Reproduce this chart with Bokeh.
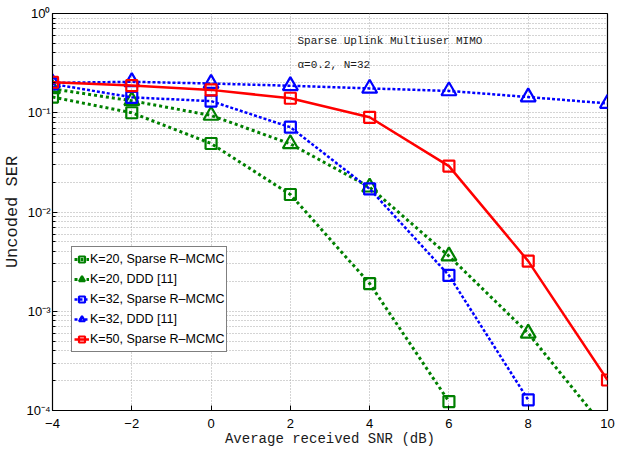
from bokeh.plotting import figure
from bokeh.models import FixedTicker, Label, Legend, LegendItem
from bokeh.embed import file_html
from bokeh.resources import INLINE

# ---- data ----
snr = [-4, -2, 0, 2, 4, 6, 8, 10]
k20_sparse = [0.144, 0.100, 0.049, 0.015, 0.0019, 1.23e-4]
k20_ddd = [0.174, 0.132, 0.094, 0.0486, 0.0178, 0.0036, 6.0e-4, 6.2e-5]
k32_sparse = [0.195, 0.143, 0.131, 0.0715, 0.0171, 0.0023, 1.28e-4]
k32_ddd = [0.200, 0.205, 0.197, 0.187, 0.176, 0.166, 0.144, 0.124]
k50_sparse = [0.203, 0.188, 0.170, 0.140, 0.090, 0.029, 0.0032, 2.03e-4]

x_ticks = [-4, -2, 0, 2, 4, 6, 8, 10]
x_tick_labels = ["\u22124", "\u22122", "0", "2", "4", "6", "8", "10"]
y_ticks = [0.0001, 0.001, 0.01, 0.1, 1]
y_tick_labels = ["10\u207b\u2074", "10\u207b\u00b3", "10\u207b\u00b2", "10\u207b\u00b9", "10\u2070"]
y_minor = [m * 10.0 ** e for e in range(-4, 0) for m in range(2, 10)]

labels = ["K=20, Sparse R\u2013MCMC", "K=20, DDD [11]", "K=32, Sparse R\u2013MCMC",
          "K=32, DDD [11]", "K=50, Sparse R\u2013MCMC"]
title1 = "Sparse Uplink Multiuser MIMO"
title2 = "\u03b1=0.2, N=32"

GREEN = "#008000"
BLUE = "#0000ff"
RED = "#ff0000"

p = figure(width=627, height=450, x_range=(-4, 10), y_range=(1e-4, 1),
           y_axis_type="log", output_backend="svg", toolbar_location=None,
           min_border_left=50, min_border_right=20, min_border_top=13,
           min_border_bottom=40)
p.background_fill_color = "white"
p.border_fill_color = "white"
p.outline_line_color = "black"
p.outline_line_width = 1.2

# axes
xa = p.xaxis[0]
xa.ticker = FixedTicker(ticks=x_ticks)
xa.major_label_overrides = {t: l for t, l in zip(x_ticks, x_tick_labels)}
ya = p.yaxis[0]
ya.ticker = FixedTicker(ticks=y_ticks, minor_ticks=y_minor)
ya.major_label_overrides = {(1 if t == 1 else t): l for t, l in zip(y_ticks, y_tick_labels)}

for ax in (xa, ya):
    ax.major_tick_in = 5
    ax.major_tick_out = 0
    ax.minor_tick_in = 3
    ax.minor_tick_out = 0
    ax.axis_line_color = "black"
    ax.major_tick_line_color = "black"
    ax.minor_tick_line_color = "black"
    ax.major_label_text_font = "Liberation Sans"
    ax.major_label_text_font_size = "13px"
    ax.major_label_text_color = "black"
    ax.axis_label_text_font = "Liberation Mono"
    ax.axis_label_text_font_style = "normal"
    ax.axis_label_text_color = "#1a1a1a"

xa.axis_label = "Average received SNR (dB)"
xa.axis_label_text_font_size = "14px"
xa.axis_label_standoff = 0
xa.major_label_standoff = 8
ya.axis_label = "Uncoded SER"
ya.axis_label_text_font_size = "17px"
ya.axis_label_standoff = 1
ya.major_label_standoff = 2

# grids
p.xgrid.ticker = FixedTicker(ticks=x_ticks)
p.xgrid.grid_line_color = "#a8a8a8"
p.xgrid.grid_line_dash = "1 2"
p.ygrid.ticker = FixedTicker(ticks=y_ticks, minor_ticks=y_minor)
p.ygrid.grid_line_color = "#a8a8a8"
p.ygrid.grid_line_dash = "1 2"
p.ygrid.minor_grid_line_color = "#a8a8a8"
p.ygrid.minor_grid_line_dash = "1 2"

series = [
    (snr[:len(k20_sparse)], k20_sparse, GREEN, "3 3", 3, "square", 11),
    (snr[:len(k20_ddd)], k20_ddd, GREEN, "3 3", 3, "triangle", 15),
    (snr[:len(k32_sparse)], k32_sparse, BLUE, "3 2", 2.5, "square", 11),
    (snr[:len(k32_ddd)], k32_ddd, BLUE, "3 2", 2.5, "triangle", 15),
    (snr[:len(k50_sparse)], k50_sparse, RED, "solid", 2.5, "square", 11),
]

items = []
for (xs, ys, col, dash, lw, mk, sz), lab in zip(series, labels):
    r1 = p.line(xs, ys, line_color=col, line_dash=dash, line_width=lw)
    r2 = p.scatter(xs, ys, marker=mk, size=sz, line_color=col, line_width=2.2,
                   fill_alpha=0)
    items.append(LegendItem(label=lab, renderers=[r1, r2]))

legend = Legend(items=items, location=(19, 58))
legend.label_text_font = "Liberation Sans"
legend.label_text_font_size = "12.5px"
legend.label_text_color = "black"
legend.border_line_color = "black"
legend.border_line_width = 1.2
legend.background_fill_color = "white"
legend.background_fill_alpha = 1
legend.padding = 2
legend.spacing = 0
legend.margin = 0
legend.label_height = 20
legend.glyph_height = 20
legend.glyph_width = 15
legend.label_standoff = 1
p.add_layout(legend, "center")

p.add_layout(Label(x=245, y=370, x_units="screen", y_units="screen", text=title1,
                   text_font="Liberation Mono", text_font_size="11px",
                   text_color="#1a1a1a", text_baseline="alphabetic"))
p.add_layout(Label(x=245, y=346, x_units="screen", y_units="screen", text=title2,
                   text_font="Liberation Mono", text_font_size="11px",
                   text_color="#1a1a1a", text_baseline="alphabetic"))

open("out.html", "w").write(file_html(p, INLINE))
